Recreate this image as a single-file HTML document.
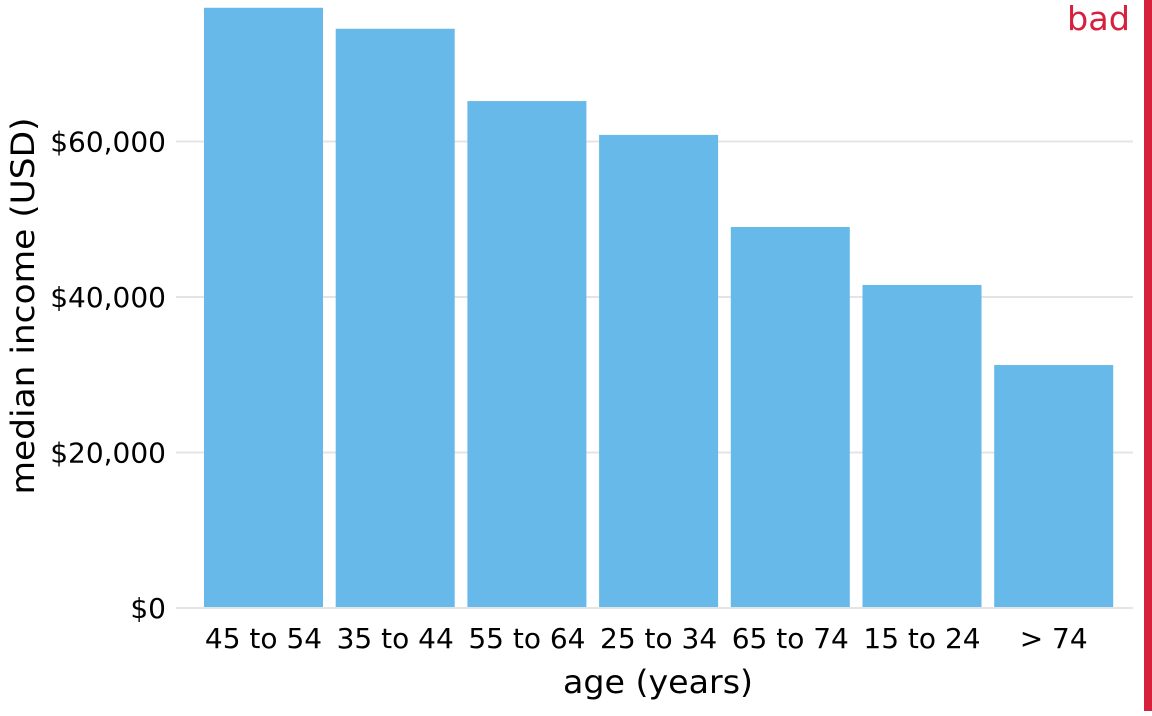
<!DOCTYPE html>
<html><head><meta charset="utf-8"><style>
body{margin:0;background:#fff}
svg text{font-family:"DejaVu Sans","Liberation Sans",sans-serif}
</style></head><body>
<svg width="1152" height="711">
<g id="grid"></g><g id="bars"></g><g id="xl"></g><g id="yl"></g>
<text x="658" y="693" font-size="32" text-anchor="middle" textLength="190" lengthAdjust="spacingAndGlyphs" fill="#000">age (years)</text>
<text transform="translate(34,306) rotate(-90)" font-size="32" text-anchor="middle" textLength="377" lengthAdjust="spacingAndGlyphs" fill="#000">median income (USD)</text>
<rect x="1144" y="0" width="8" height="711" fill="#d6213c"/>
<text x="1130" y="30" font-size="33" text-anchor="end" textLength="63" lengthAdjust="spacingAndGlyphs" fill="#d6213c">bad</text>
</svg>
<script>
const categories=["45 to 54","35 to 44","55 to 64","25 to 34","65 to 74","15 to 24","> 74"];
const values=[77200,74500,65200,60850,49000,41550,31250];
const yTicks=[0,20000,40000,60000];
const yTickLabels=["$0","$20,000","$40,000","$60,000"];
const NS="http://www.w3.org/2000/svg";
const y=v=>608-v*(155.5/20000);
const step=131.7, x0=204, bw=119;
const x=i=>x0+i*step;
function mk(t,a,p,txt){const e=document.createElementNS(NS,t);for(const k in a)e.setAttribute(k,a[k]);if(txt!=null)e.textContent=txt;document.getElementById(p).appendChild(e);return e;}
yTicks.forEach((v,i)=>{
 const l=mk('line',{x1:176,x2:1133,y1:y(v),y2:y(v),stroke:'#e4e4e4','stroke-width':2},'grid');
 
 
 const t=mk('text',{x:166,y:y(v)+10,'font-size':28,'text-anchor':'end',fill:'#000'},'yl',yTickLabels[i]);
 
 
});
categories.forEach((c,i)=>{
 const r=mk('rect',{x:x(i),y:y(values[i]),width:bw,height:y(0)-1-y(values[i]),fill:'#66b9e8'},'bars');
 
 
 const t=mk('text',{x:x(i)+bw/2,y:648,'font-size':28,'text-anchor':'middle',fill:'#000'},'xl',c);
 
 
});
</script>
</body></html>
